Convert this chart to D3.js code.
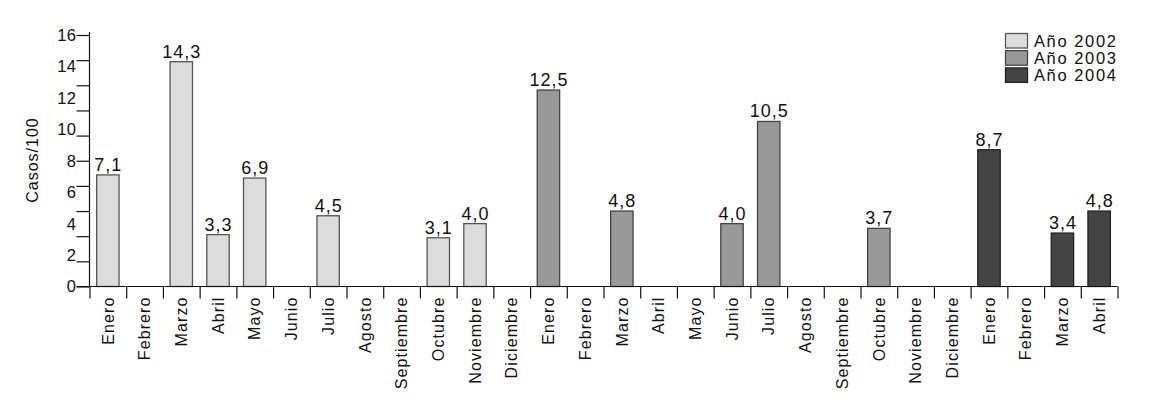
<!DOCTYPE html>
<html><head><meta charset="utf-8">
<script src="https://cdn.jsdelivr.net/npm/d3@7"></script>
<style>
html,body{margin:0;padding:0;background:#fff;}
svg text{font-family:"Liberation Sans",Arial,sans-serif;fill:#111;}
</style></head>
<body>
<svg id="chart" width="1176" height="408"></svg>
<script>
const months = ["Enero","Febrero","Marzo","Abril","Mayo","Junio","Julio","Agosto","Septiembre","Octubre","Noviembre","Diciembre",
                "Enero","Febrero","Marzo","Abril","Mayo","Junio","Julio","Agosto","Septiembre","Octubre","Noviembre","Diciembre",
                "Enero","Febrero","Marzo","Abril"];
const years = ["Año 2002","Año 2003","Año 2004"];
const values2002 = [7.1,null,14.3,3.3,6.9,null,4.5,null,null,3.1,4.0,null];
const values2003 = [12.5,null,4.8,null,null,4.0,10.5,null,null,3.7,null,null];
const values2004 = [8.7,null,3.4,4.8];
const yLabels = [0,2,4,6,8,10,12,14,16];
const yTickCount = 10;
const colors = ["#dcdcdc","#999999","#444444"];
const strokes = ["#555","#444","#222"];

const data = [];
[values2002,values2003,values2004].forEach((arr,yi)=>arr.forEach((v,mi)=>{
  data.push({idx:data.length, year:yi, month:months[data.length], value:v});
}));

const svg = d3.select("#chart");
const mLeft = 89.5, mRight = 1117.5, mTop = 35, mBottom = 286.5;

const x = d3.scaleBand().domain(data.map(d=>d.idx)).range([mLeft,mRight]).paddingInner(0.39).paddingOuter(0.195);
const xLin = d3.scaleLinear().domain([0,data.length]).range([mLeft,mRight]);
const y = d3.scaleLinear().domain([0,16]).range([mBottom,mTop]);

// bars
svg.append("g").selectAll("rect").data(data.filter(d=>d.value!=null)).join("rect")
  .attr("x",d=>x(d.idx)).attr("width",x.bandwidth())
  .attr("y",d=>y(d.value)).attr("height",d=>y(0)-y(d.value))
  .attr("fill",d=>colors[d.year]).attr("stroke",d=>strokes[d.year]).attr("stroke-width",1.3);

// value labels
svg.append("g").selectAll("text").data(data.filter(d=>d.value!=null)).join("text")
  .attr("x",d=>x(d.idx)+x.bandwidth()/2+0.5).attr("y",d=>y(d.value)-4)
  .attr("text-anchor","middle").style("font-size","18px").style("letter-spacing","1px")
  .text(d=>d3.format(".1f")(d.value).replace(".",","));

// y axis (ticks evenly spaced, labels separate)
const yAxis = svg.append("g").attr("transform",`translate(${mLeft},0)`)
  .call(d3.axisLeft(y).tickValues(d3.range(0,yTickCount+1).map(i=>i*16/yTickCount)).tickSize(13).tickSizeOuter(0).tickFormat(""));
yAxis.select(".domain").attr("d",`M0,${mTop-3}V${mBottom}`).attr("stroke","#111").attr("stroke-width",1.2);
yAxis.selectAll(".tick line").attr("stroke","#111").attr("stroke-width",1.2);

svg.append("g").selectAll("text").data(yLabels).join("text")
  .attr("x",mLeft-13).attr("y",d=>y(d)).attr("dy","0.36em")
  .attr("text-anchor","end").style("font-size","16.5px").style("letter-spacing","0.5px")
  .text(d=>d);

// x axis boundary ticks
const xAxis = svg.append("g").attr("transform",`translate(0,${mBottom})`)
  .call(d3.axisBottom(xLin).tickValues(d3.range(0,data.length+1)).tickSize(12).tickSizeOuter(0).tickFormat(""));
xAxis.select(".domain").attr("d",`M${mLeft-13},0H${mRight}`).attr("stroke","#111").attr("stroke-width",1.2);
xAxis.selectAll(".tick line").attr("stroke","#111").attr("stroke-width",1.2);

// month labels
const xLab = svg.append("g").attr("transform",`translate(0,${mBottom})`)
  .call(d3.axisBottom(x).tickSize(0).tickFormat(i=>months[i]));
xLab.select(".domain").remove();
xLab.selectAll("text").attr("transform","rotate(-90)").attr("text-anchor","end")
  .attr("x",-10).attr("y",0).attr("dy","0.36em")
  .style("font-size","16px").style("letter-spacing","1.1px").style("font-family","'Liberation Sans',Arial,sans-serif").attr("fill","#111");

// y title
svg.append("text").attr("transform",`translate(38,160) rotate(-90)`).attr("text-anchor","middle")
  .style("font-size","16px").style("letter-spacing","1px").text("Casos/100");

// legend
const leg = svg.append("g").attr("transform","translate(1005,33)");
const lg = leg.selectAll("g").data(years).join("g").attr("transform",(d,i)=>`translate(0,${i*17.2})`);
lg.append("rect").attr("x",0.5).attr("y",0.5).attr("width",22).attr("height",14.5)
  .attr("fill",(d,i)=>colors[i]).attr("stroke",(d,i)=>strokes[i]).attr("stroke-width",1.3);
lg.append("text").attr("x",29).attr("y",13.5).style("font-size","16.5px").style("letter-spacing","1.6px").text(d=>d);
</script>
</body></html>
